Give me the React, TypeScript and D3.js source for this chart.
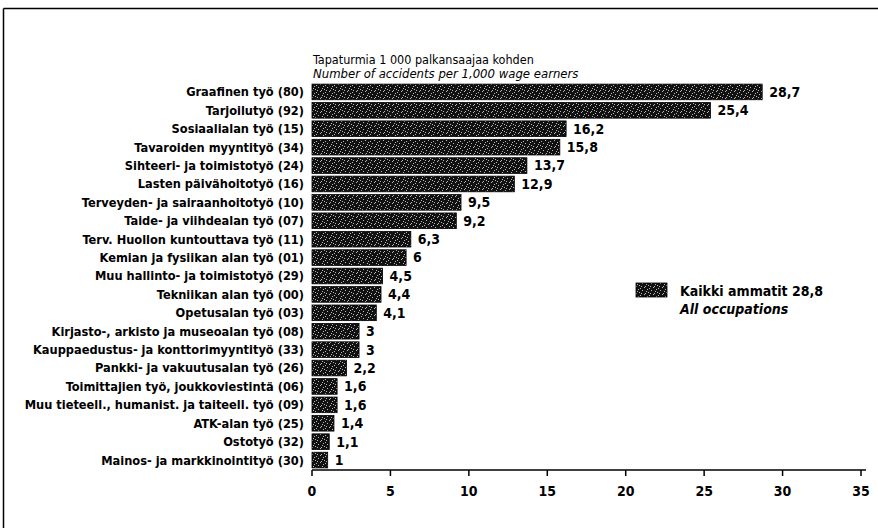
import React from "react";
import * as d3 from "d3";

const categories = [
  "Graafinen työ (80)",
  "Tarjoilutyö (92)",
  "Sosiaalialan työ (15)",
  "Tavaroiden myyntityö (34)",
  "Sihteeri- ja toimistotyö (24)",
  "Lasten päivähoitotyö (16)",
  "Terveyden- ja sairaanhoitotyö (10)",
  "Taide- ja viihdealan työ (07)",
  "Terv. Huollon kuntouttava työ (11)",
  "Kemian ja fysiikan alan työ (01)",
  "Muu hallinto- ja toimistotyö (29)",
  "Tekniikan alan työ (00)",
  "Opetusalan työ (03)",
  "Kirjasto-, arkisto ja museoalan työ (08)",
  "Kauppaedustus- ja konttorimyyntityö (33)",
  "Pankki- ja vakuutusalan työ (26)",
  "Toimittajien työ, joukkoviestintä (06)",
  "Muu tieteell., humanist. ja taiteell. työ (09)",
  "ATK-alan työ (25)",
  "Ostotyö (32)",
  "Mainos- ja markkinointityö (30)",
];

const values = [28.7, 25.4, 16.2, 15.8, 13.7, 12.9, 9.5, 9.2, 6.3, 6, 4.5, 4.4, 4.1, 3, 3, 2.2, 1.6, 1.6, 1.4, 1.1, 1];

const xTicks = [0, 5, 10, 15, 20, 25, 30, 35];

const titleFi = "Tapaturmia 1 000 palkansaajaa kohden";
const titleEn = "Number of accidents per 1,000 wage earners";
const legendFi = "Kaikki ammatit 28,8";
const legendEn = "All occupations";

const FONT = "'Liberation Sans Narrow', 'DejaVu Sans Condensed', 'Roboto Condensed', sans-serif";

const fmt = (v: number) => String(v).replace(".", ",");

// speckle dots (texture positions within pattern tile)
const speckle: [number, number][] = [
  [1, 1], [5, 0], [3, 3], [7, 4], [0, 5], [6, 6], [2, 6], [8, 2],
];

export default function App() {
  const W = 878;
  const H = 528;
  const x = d3.scaleLinear().domain([0, 35]).range([312, 861]);
  const y = d3
    .scaleBand<string>()
    .domain(categories)
    .range([83, 469])
    .paddingInner(0.15)
    .paddingOuter(0.06);
  const axisY = 470;

  return (
    <div style={{ position: "absolute", left: 0, top: 0 }}>
      <svg width={W} height={H} style={{ display: "block", background: "#fff" }}>
        <defs>
          <pattern id="speck" width={9} height={7} patternUnits="userSpaceOnUse">
            <rect width={9} height={7} fill="#111" />
            {speckle.map(([px, py], i) => (
              <rect key={i} x={px} y={py} width={1} height={1} fill="#fff" opacity={0.7} />
            ))}
          </pattern>
        </defs>

        {/* frame */}
        <line x1={3.5} y1={8.5} x2={W} y2={8.5} stroke="#000" strokeWidth={1.5} />
        <line x1={3.5} y1={8.5} x2={3.5} y2={H} stroke="#000" strokeWidth={1.5} />

        {/* titles */}
        <text x={313} y={64} fontFamily={FONT} fontSize={12.5} fill="#000">
          {titleFi}
        </text>
        <text x={313} y={78} fontFamily={FONT} fontSize={13} fontStyle="italic" fill="#000">
          {titleEn}
        </text>

        {/* bars */}
        {categories.map((c, i) => {
          const by = y(c)!;
          const bh = y.bandwidth();
          const x0 = x(0);
          const x1 = x(values[i]);
          return (
            <g key={c}>
              <text
                x={304}
                y={by + bh / 2}
                dy="0.35em"
                textAnchor="end"
                fontFamily={FONT}
                fontSize={12.7}
                fontWeight="bold"
                fill="#000"
              >
                {c}
              </text>
              <rect x={x0} y={by} width={x1 - x0} height={bh} fill="url(#speck)" stroke="#000" strokeWidth={0.8} />
              <text
                x={x1 + 7}
                y={by + bh / 2}
                dy="0.35em"
                fontFamily={FONT}
                fontSize={14}
                fontWeight="bold"
                fill="#000"
              >
                {fmt(values[i])}
              </text>
            </g>
          );
        })}

        {/* x axis */}
        <line x1={x(0)} y1={axisY} x2={866} y2={axisY} stroke="#000" strokeWidth={1.5} />
        {xTicks.map((t) => (
          <g key={t}>
            <line x1={x(t)} y1={axisY} x2={x(t)} y2={axisY + 6} stroke="#000" strokeWidth={1.5} />
            <text
              x={x(t)}
              y={491}
              dy="0.35em"
              textAnchor="middle"
              fontFamily={FONT}
              fontSize={14}
              fontWeight="bold"
              fill="#000"
            >
              {t}
            </text>
          </g>
        ))}

        {/* legend */}
        <rect x={636} y={283} width={31} height={14} fill="url(#speck)" stroke="#000" strokeWidth={0.8} />
        <text x={680} y={291} dy="0.35em" fontFamily={FONT} fontSize={14} fontWeight="bold" fill="#000">
          {legendFi}
        </text>
        <text x={680} y={309} dy="0.35em" fontFamily={FONT} fontSize={14} fontStyle="italic" fontWeight="bold" fill="#000">
          {legendEn}
        </text>
      </svg>
    </div>
  );
}
